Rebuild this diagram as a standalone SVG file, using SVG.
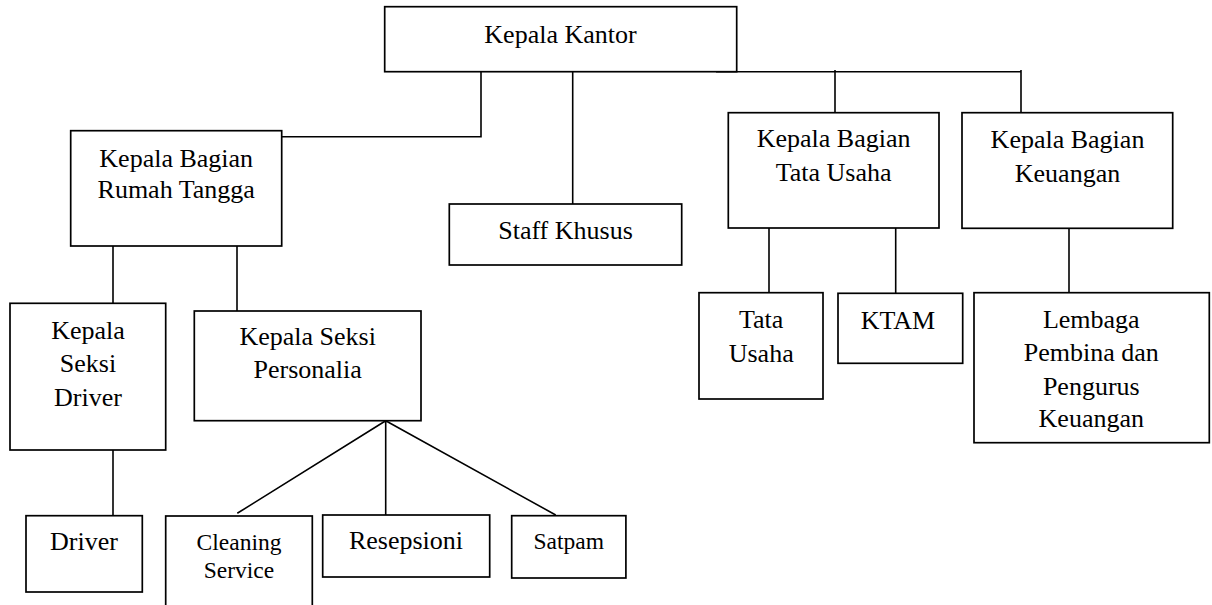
<svg xmlns="http://www.w3.org/2000/svg" width="1212" height="605" viewBox="0 0 1212 605">
<style>
.box{fill:#fff;stroke:#000;stroke-width:1.7}
.c{fill:none;stroke:#000;stroke-width:1.6}
text{font-family:"Liberation Serif",Tinos,"Noto Serif","DejaVu Serif",FreeSerif,"Nimbus Roman","Times New Roman",Times,serif;font-size:26px;fill:#000;text-anchor:middle}
.s{font-size:23.5px}
</style>
<rect width="1212" height="605" fill="#fff"/>
<g id="connectors">
<path class="c" d="M716,71.7H1021M835,70V112.7M1021,70V112.7"/>
<path class="c" d="M481,71.7V136.7H281.7"/>
<path class="c" d="M572.7,71.7V204"/>
<path class="c" d="M113,246V303.3M237,246V311"/>
<path class="c" d="M113,450V515.7"/>
<path class="c" d="M385.7,420.7L237.3,513.3M385.7,420.7V515M385.7,420.7L555.7,515"/>
<path class="c" d="M769,228V292.7M895.7,228V293.3"/>
<path class="c" d="M1069,228.3V292.7"/>
</g>
<g id="kepala-kantor">
<rect class="box" x="384.7" y="6.7" width="352" height="65"/>
<text x="560.5" y="42.7">Kepala Kantor</text>
</g>
<g id="kb-rumah-tangga">
<rect class="box" x="70.7" y="130.7" width="211" height="115.3"/>
<text x="176.2" y="166.7">Kepala Bagian</text>
<text x="176.2" y="198.3">Rumah Tangga</text>
</g>
<g id="staff-khusus">
<rect class="box" x="449.3" y="204" width="232.4" height="61"/>
<text x="565.5" y="239.3">Staff Khusus</text>
</g>
<g id="kb-tata-usaha">
<rect class="box" x="728.3" y="112.7" width="210.7" height="115.3"/>
<text x="833.6" y="146.7">Kepala Bagian</text>
<text x="833.6" y="181">Tata Usaha</text>
</g>
<g id="kb-keuangan">
<rect class="box" x="962" y="112.7" width="210.7" height="115.6"/>
<text x="1067.5" y="147.7">Kepala Bagian</text>
<text x="1067.5" y="181.7">Keuangan</text>
</g>
<g id="ks-driver">
<rect class="box" x="10" y="303.3" width="155.7" height="146.7"/>
<text x="88" y="339">Kepala</text>
<text x="88" y="371.7">Seksi</text>
<text x="88" y="405.7">Driver</text>
</g>
<g id="ks-personalia">
<rect class="box" x="194.3" y="311" width="226.7" height="109.7"/>
<text x="307.7" y="345">Kepala Seksi</text>
<text x="307.7" y="378.3">Personalia</text>
</g>
<g id="tata-usaha">
<rect class="box" x="699" y="292.7" width="124" height="106.3"/>
<text x="761.2" y="328.3">Tata</text>
<text x="761.2" y="361.7">Usaha</text>
</g>
<g id="ktam">
<rect class="box" x="838" y="293.3" width="124.7" height="70"/>
<text x="898" y="329.3">KTAM</text>
</g>
<g id="lembaga">
<rect class="box" x="974" y="292.7" width="235.3" height="150"/>
<text x="1091.3" y="328.3">Lembaga</text>
<text x="1091.3" y="361">Pembina dan</text>
<text x="1091.3" y="395">Pengurus</text>
<text x="1091.3" y="426.7">Keuangan</text>
</g>
<g id="driver">
<rect class="box" x="26" y="515.7" width="116.3" height="76.3"/>
<text x="84" y="550">Driver</text>
</g>
<g id="cleaning-service">
<rect class="box" x="165.7" y="516" width="146.6" height="100"/>
<text class="s" x="239" y="550">Cleaning</text>
<text class="s" x="239" y="578.3">Service</text>
</g>
<g id="resepsioni">
<rect class="box" x="322.7" y="515" width="167" height="62"/>
<text x="406" y="549.3">Resepsioni</text>
</g>
<g id="satpam">
<rect class="box" x="511.7" y="515.7" width="114.2" height="62.3"/>
<text class="s" x="568.8" y="549">Satpam</text>
</g>
</svg>
